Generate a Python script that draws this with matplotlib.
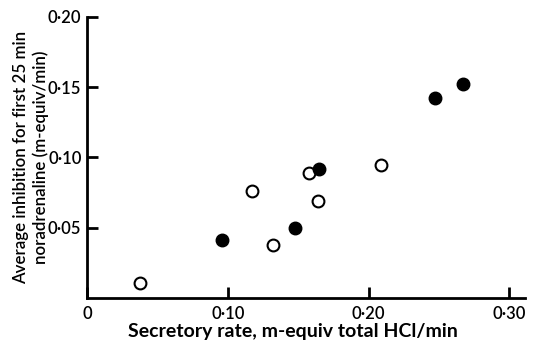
import matplotlib.pyplot as plt

# open circles
open_x = [0.038, 0.117, 0.132, 0.158, 0.164, 0.209]
open_y = [0.011, 0.076, 0.038, 0.089, 0.069, 0.095]
# filled circles
fill_x = [0.096, 0.148, 0.165, 0.247, 0.267]
fill_y = [0.041, 0.050, 0.092, 0.142, 0.152]

xticks = [0, 0.10, 0.20, 0.30]
xlabels = ['0', '0·10', '0·20', '0·30']
yticks = [0.05, 0.10, 0.15, 0.20]
ylabels = ['0·05', '0·10', '0·15', '0·20']

plt.rcParams['font.family'] = ['Lato', 'DejaVu Sans']
plt.rcParams['font.weight'] = 'semibold'
plt.rcParams['axes.labelweight'] = 'semibold'

fig = plt.figure(figsize=(5.35, 3.46), dpi=100)
ax = fig.add_axes([0.1626, 0.1387, 0.8184, 0.8123])

ax.plot(open_x, open_y, 'o', ms=8.5, mfc='white', mec='black', mew=1.5, clip_on=False)
ax.plot(fill_x, fill_y, 'o', ms=9, mfc='black', mec='black', clip_on=False)

ax.set_xlim(0, 0.311)
ax.set_ylim(0, 0.20)
ax.set_xticks(xticks)
ax.set_xticklabels(xlabels)
ax.set_yticks(yticks)
ax.set_yticklabels(ylabels)

for s in ['top', 'right']:
    ax.spines[s].set_visible(False)
for s in ['left', 'bottom']:
    ax.spines[s].set_linewidth(2)

ax.tick_params(direction='in', length=8, width=2, labelsize=12, pad=4)
ax.tick_params(axis='x', pad=6)

ax.set_xlabel('Secretory rate, m-equiv total HCl/min', fontsize=14, fontweight='bold')
ax.xaxis.set_label_coords(0.47, -0.088)
ax.set_ylabel('Average inhibition for first 25 min\nnoradrenaline (m-equiv/min)', fontsize=12.2, linespacing=1.3)
ax.yaxis.set_label_coords(-0.086, 0.5)

fig.savefig('out.png', dpi=100)
